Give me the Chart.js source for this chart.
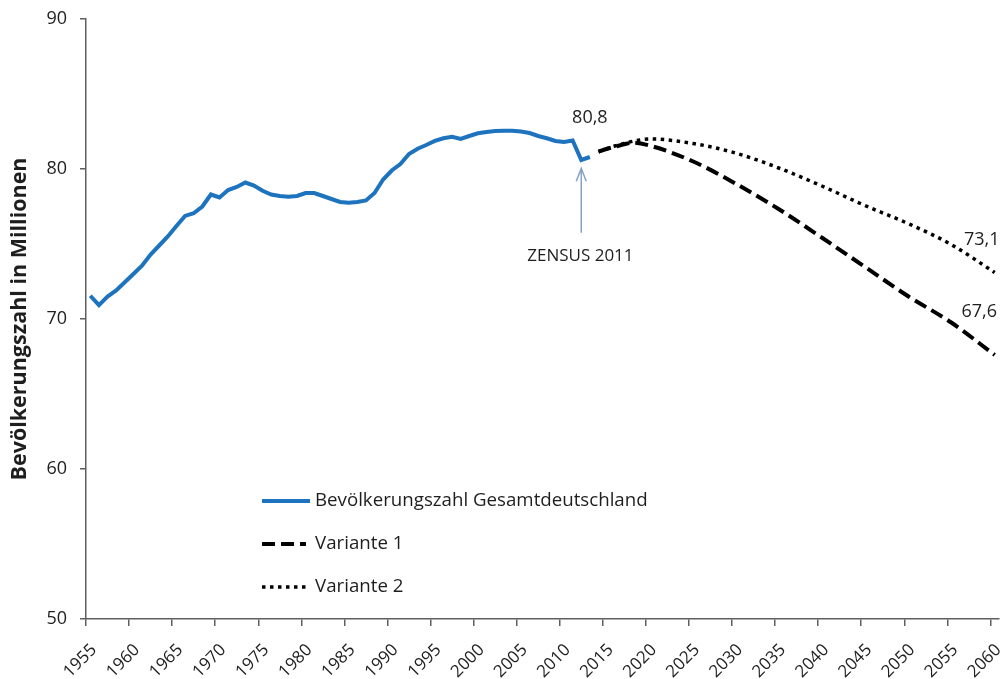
<!DOCTYPE html>
<html>
<head>
<meta charset="utf-8">
<script src="https://cdn.jsdelivr.net/npm/chart.js@4.4.1/dist/chart.umd.min.js"></script>
<style>
  body { margin: 0; background: #fff; }
</style>
</head>
<body>
<canvas id="bevChart" width="1000" height="679"></canvas>
<script>
// ------------ data ------------
const histYears = [1955, 1956, 1957, 1958, 1959, 1960, 1961, 1962, 1963, 1964,
                   1965, 1966, 1967, 1968, 1969, 1970, 1971, 1972, 1973, 1974,
                   1975, 1976, 1977, 1978, 1979, 1980, 1981, 1982, 1983, 1984,
                   1985, 1986, 1987, 1988, 1989, 1990, 1991, 1992, 1993, 1994,
                   1995, 1996, 1997, 1998, 1999, 2000, 2001, 2002, 2003, 2004,
                   2005, 2006, 2007, 2008, 2009, 2010, 2011, 2012, 2013]
const histValues = [71.55, 70.93, 71.5, 71.9, 72.45, 73.0, 73.55, 74.3, 74.9, 75.5,
                    76.2, 76.87, 77.05, 77.5, 78.3, 78.1, 78.6, 78.8, 79.1, 78.9,
                    78.55, 78.3, 78.2, 78.15, 78.2, 78.4, 78.4, 78.2, 78.0, 77.8,
                    77.75, 77.8, 77.9, 78.4, 79.3, 79.9, 80.33, 81.0, 81.35, 81.6,
                    81.87, 82.05, 82.15, 82.0, 82.2, 82.38, 82.47, 82.53, 82.55, 82.55,
                    82.5, 82.4, 82.2, 82.05, 81.87, 81.8, 81.9, 80.6, 80.8]

const projYears = [2014, 2015, 2016, 2017, 2018, 2020, 2025, 2030, 2035, 2040, 2045, 2050, 2055, 2060]
const variante1 = [81.15, 81.35, 81.5, 81.65, 81.75, 81.55, 80.5, 79.0, 77.3, 75.4, 73.45, 71.5, 69.75, 67.6]
const variante2 = [81.15, 81.35, 81.55, 81.7, 81.85, 82.0, 81.7, 81.05, 80.05, 78.85, 77.55, 76.35, 74.95, 73.1]

const tickYears = [1955, 1960, 1965, 1970, 1975, 1980, 1985, 1990, 1995, 2000, 2005,
                   2010, 2015, 2020, 2025, 2030, 2035, 2040, 2045, 2050, 2055, 2060]
const yTicks = [50, 60, 70, 80, 90]

const labels = ['Bevölkerungszahl Gesamtdeutschland', 'Variante 1', 'Variante 2']

let textColor = '#1e1e1e'
let axisColor = '#5f5f5f'
let fontName = "'Open Sans', 'Noto Sans', sans-serif"

function toPoints(xs, ys) {
    return xs.map(function(x, i) { return { x: x, y: ys[i] } })
}

// legend drawn inside the plot, like the original
const insideLegend = {
    id: 'insideLegend',
    afterDraw(chart) {
        const ctx = chart.ctx
        const area = chart.chartArea
        ctx.save()
        ctx.font = '18.7px ' + fontName
        ctx.fillStyle = textColor
        ctx.textBaseline = 'middle'
        chart.data.datasets.forEach(function(ds, i) {
            let y = area.top + 482 + i * 43
            let x0 = area.left + 176
            ctx.beginPath()
            ctx.strokeStyle = ds.borderColor
            ctx.lineWidth = ds.borderWidth
            ctx.setLineDash(ds.borderDash || [])
            ctx.moveTo(x0, y)
            ctx.lineTo(x0 + (i === 0 ? 48 : 44), y)
            ctx.stroke()
            ctx.setLineDash([])
            ctx.fillText(ds.label, area.left + 229, y)
        })
        ctx.restore()
    }
}

// value labels and the census arrow
const notes = {
    id: 'notes',
    afterDraw(chart) {
        const ctx = chart.ctx
        const xs = chart.scales.x
        const ys = chart.scales.y
        ctx.save()
        ctx.fillStyle = textColor
        ctx.textAlign = 'center'
        ctx.textBaseline = 'middle'
        ctx.font = '18px ' + fontName
        ctx.fillText('80,8', xs.getPixelForValue(2013), ys.getPixelForValue(83.4))
        ctx.fillText('73,1', xs.getPixelForValue(2058.5), ys.getPixelForValue(75.3))
        ctx.fillText('67,6', xs.getPixelForValue(2058.2), ys.getPixelForValue(70.45))
        ctx.font = '17px ' + fontName
        ctx.fillText('ZENSUS 2011', xs.getPixelForValue(2011.9), ys.getPixelForValue(74.2))

        // arrow
        let ax = xs.getPixelForValue(2012)
        let tip = ys.getPixelForValue(80.05)
        let tail = ys.getPixelForValue(75.75)
        ctx.strokeStyle = '#86a2c6'
        ctx.lineWidth = 1.5
        ctx.beginPath()
        ctx.moveTo(ax, tail)
        ctx.lineTo(ax, tip)
        ctx.moveTo(ax - 5, tip + 13)
        ctx.lineTo(ax, tip)
        ctx.lineTo(ax + 5, tip + 13)
        ctx.stroke()
        ctx.restore()
    }
}

const ctx = document.getElementById('bevChart').getContext('2d')

let myChart = new Chart(ctx, {
    type: 'line',
    data: {
        datasets: [{
            label: labels[0],
            data: toPoints(histYears, histValues),
            borderColor: '#1e73be',
            borderWidth: 4,
            tension: 0
        }, {
            label: labels[1],
            data: toPoints(projYears, variante1),
            borderColor: '#000000',
            borderWidth: 4,
            borderDash: [13, 6],
            cubicInterpolationMode: 'monotone'
        }, {
            label: labels[2],
            data: toPoints(projYears, variante2),
            borderColor: '#000000',
            borderWidth: 3.5,
            borderDash: [3.5, 4.5],
            cubicInterpolationMode: 'monotone'
        }]
    },
    options: {
        responsive: false,
        animation: false,
        layout: { padding: { top: 19, right: 1, left: 0, bottom: 0 } },
        elements: { point: { radius: 0, hoverRadius: 0 } },
        plugins: {
            legend: { display: false },
            tooltip: { enabled: false }
        },
        scales: {
            x: {
                type: 'linear',
                min: 1954.5,
                max: 2060.5,
                afterFit: function(scale) {
                    scale.height = 60
                    scale.paddingLeft = 0
                    scale.paddingRight = 0
                },
                afterBuildTicks: function(scale) {
                    scale.ticks = tickYears.map(function(y) { return { value: y - 0.5 } })
                },
                ticks: {
                    autoSkip: false,
                    maxRotation: 45,
                    minRotation: 45,
                    labelOffset: 8,
                    padding: 14,
                    color: textColor,
                    font: { family: fontName, size: 17 },
                    callback: function(value, index) { return String(tickYears[index]) }
                },
                grid: { drawOnChartArea: false, tickLength: 7, color: axisColor, lineWidth: 1.5 },
                border: { color: axisColor, width: 1.5 }
            },
            y: {
                min: 50,
                max: 90,
                afterFit: function(scale) {
                    scale.width = 86
                    scale.paddingTop = 0
                    scale.paddingBottom = 0
                },
                afterBuildTicks: function(scale) {
                    scale.ticks = yTicks.map(function(v) { return { value: v } })
                },
                ticks: {
                    padding: 13,
                    color: textColor,
                    font: { family: fontName, size: 18 }
                },
                title: {
                    display: true,
                    text: 'Bevölkerungszahl in Millionen',
                    color: textColor,
                    padding: { top: 7, bottom: 0 },
                    font: { family: fontName, size: 21.5, weight: 'bold' }
                },
                grid: { drawOnChartArea: false, tickLength: 6, color: axisColor, lineWidth: 1.5 },
                border: { color: axisColor, width: 1.5 }
            }
        }
    },
    plugins: [insideLegend, notes]
})
</script>
</body>
</html>
